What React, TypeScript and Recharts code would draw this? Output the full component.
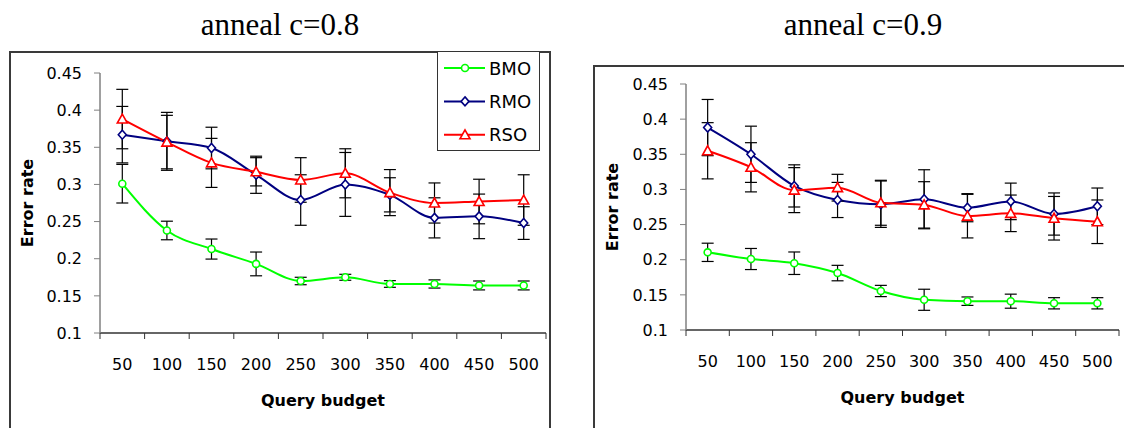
import React from 'react';
import { LineChart, Line, XAxis, YAxis, ErrorBar, Legend } from 'recharts';

const budgets = [50, 100, 150, 200, 250, 300, 350, 400, 450, 500];
const yTicks = [0.1, 0.15, 0.2, 0.25, 0.3, 0.35, 0.4, 0.45];

// anneal c=0.8
const bmo08 = [0.301, 0.238, 0.213, 0.193, 0.17, 0.175, 0.166, 0.166, 0.164, 0.164];
const bmo08Err = [0.026, 0.0125, 0.0135, 0.016, 0.005, 0.004, 0.0045, 0.0055, 0.006, 0.006];
const rmo08 = [0.367, 0.358, 0.349, 0.313, 0.279, 0.3, 0.286, 0.255, 0.257, 0.248];
const rmo08Err = [0.038, 0.039, 0.028, 0.025, 0.034, 0.043, 0.023, 0.027, 0.03, 0.022];
const rso08 = [0.388, 0.357, 0.329, 0.317, 0.306, 0.315, 0.289, 0.275, 0.277, 0.279];
const rso08Err = [0.04, 0.036, 0.033, 0.019, 0.03, 0.033, 0.031, 0.027, 0.03, 0.034];

// anneal c=0.9
const bmo09 = [0.2105, 0.201, 0.195, 0.181, 0.1555, 0.143, 0.141, 0.141, 0.138, 0.138];
const bmo09Err = [0.013, 0.015, 0.016, 0.011, 0.008, 0.015, 0.006, 0.01, 0.008, 0.008];
const rmo09 = [0.388, 0.35, 0.305, 0.285, 0.279, 0.286, 0.274, 0.283, 0.265, 0.276];
const rmo09Err = [0.04, 0.04, 0.03, 0.025, 0.033, 0.042, 0.02, 0.026, 0.03, 0.026];
const rso09 = [0.355, 0.3315, 0.299, 0.3025, 0.281, 0.278, 0.262, 0.266, 0.259, 0.254];
const rso09Err = [0.04, 0.035, 0.032, 0.019, 0.032, 0.033, 0.031, 0.026, 0.031, 0.031];

const seriesNames = ['BMO', 'RMO', 'RSO'];
const seriesColors = ['#00ff00', '#000080', '#ff0000'];

const FONT = '"DejaVu Sans", Arial, sans-serif';

function buildRows(b: number[], be: number[], m: number[], me: number[], s: number[], se: number[]) {
  return budgets.map((q, i) => ({
    q,
    bmo: b[i],
    bmoErr: be[i],
    rmo: m[i],
    rmoErr: me[i],
    rso: s[i],
    rsoErr: se[i],
  }));
}

const data08 = buildRows(bmo08, bmo08Err, rmo08, rmo08Err, rso08, rso08Err);
const data09 = buildRows(bmo09, bmo09Err, rmo09, rmo09Err, rso09, rso09Err);

// marker shapes
const Marker = ({ kind, cx, cy }: { kind: number; cx: number; cy: number }) => {
  const color = seriesColors[kind];
  if (kind === 0) {
    return <circle cx={cx} cy={cy} r={3.5} fill="#fff" stroke={color} strokeWidth={1.6} />;
  }
  if (kind === 1) {
    const d = `M${cx},${cy - 4.5} L${cx + 4},${cy} L${cx},${cy + 4.5} L${cx - 4},${cy} Z`;
    return <path d={d} fill="#fff" stroke={color} strokeWidth={1.6} />;
  }
  const d = `M${cx},${cy - 5} L${cx + 5},${cy + 4} L${cx - 5},${cy + 4} Z`;
  return <path d={d} fill="#fff" stroke={color} strokeWidth={1.6} />;
};

const dotFor = (kind: number) => (p: any) =>
  p.cx == null ? <g key={p.index} /> : <Marker key={p.index} kind={kind} cx={p.cx} cy={p.cy} />;

// x ticks: label at category centre, tick marks between categories
const XTick = (props: any) => {
  const { x, y, payload, index, band } = props;
  const last = index === budgets.length - 1;
  return (
    <g>
      <line x1={x - band / 2} x2={x - band / 2} y1={y} y2={y + 6} stroke="#333" />
      {last && <line x1={x + band / 2} x2={x + band / 2} y1={y} y2={y + 6} stroke="#333" />}
      <text x={x} y={y + 37} textAnchor="middle" fontSize={16} fontFamily={FONT} fill="#000">
        {payload.value}
      </text>
    </g>
  );
};

const LegendBox = () => (
  <div style={{ width: 103, height: 100, border: '1.5px solid #333', background: '#fff', boxSizing: 'border-box' }}>
    <svg width={100} height={97} style={{ display: 'block' }}>
      {seriesNames.map((name, i) => {
        const cy = 16 + i * 33.4;
        return (
          <g key={name}>
            <line x1={6} x2={47} y1={cy} y2={cy} stroke={seriesColors[i]} strokeWidth={2} />
            <Marker kind={i} cx={27} cy={cy} />
            <text x={51} y={cy + 6.5} fontSize={18} fontFamily={FONT} fill="#000">
              {name}
            </text>
          </g>
        );
      })}
    </svg>
  </div>
);

interface PanelProps {
  data: any[];
  left: number;
  width: number;
  margin: { top: number; right: number; bottom: number; left: number };
  yAxisWidth: number;
  band: number;
  yLabelX: number;
  showLegend?: boolean;
}

const Panel: React.FC<PanelProps> = ({ data, left, width, margin, yAxisWidth, band, yLabelX, showLegend }) => (
  <LineChart
    width={width}
    height={428}
    data={data}
    margin={margin}
    style={{ position: 'absolute', left, top: 0 }}
  >
    <XAxis
      dataKey="q"
      type="number"
      domain={[25, 525]}
      ticks={budgets}
      interval={0}
      height={60}
      tickSize={0}
      tickMargin={0}
      tickLine={false}
      axisLine={{ stroke: '#333', strokeWidth: 1.5 }}
      tick={<XTick band={band} />}
      label={(p: any) => {
        const vb = p.viewBox || {};
        return (
          <text
            x={vb.x + vb.width / 2}
            y={vb.y + 73}
            textAnchor="middle"
            fontSize={16}
            fontWeight="bold"
            fontFamily={FONT}
            fill="#000"
          >
            Query budget
          </text>
        );
      }}
    />
    <YAxis
      type="number"
      domain={[0.1, 0.45]}
      ticks={yTicks}
      interval={0}
      width={yAxisWidth}
      tickSize={6}
      tickMargin={12}
      axisLine={{ stroke: '#808080', strokeWidth: 1.5 }}
      tickLine={{ stroke: '#808080' }}
      tick={{ fill: '#000', fontSize: 16, fontFamily: FONT }}
      label={(p: any) => {
        const vb = p.viewBox || {};
        const cy = vb.y + vb.height / 2;
        return (
          <text
            x={yLabelX}
            y={cy}
            transform={`rotate(-90, ${yLabelX}, ${cy})`}
            textAnchor="middle"
            dominantBaseline="central"
            fontSize={16}
            fontWeight="bold"
            fontFamily={FONT}
            fill="#000"
          >
            Error rate
          </text>
        );
      }}
    />
    {showLegend && (
      <Legend
        layout="horizontal"
        verticalAlign="middle"
        align="center"
        content={LegendBox}
        wrapperStyle={{ left: 437, top: 51, width: 103, height: 100 }}
      />
    )}
    <Line type="monotone" dataKey="bmo" name="BMO" stroke={seriesColors[0]} strokeWidth={2} dot={dotFor(0)} activeDot={false} isAnimationActive={false}>
      <ErrorBar dataKey="bmoErr" width={6} stroke="#000" strokeWidth={1.2} direction="y" />
    </Line>
    <Line type="monotone" dataKey="rmo" name="RMO" stroke={seriesColors[1]} strokeWidth={2} dot={dotFor(1)} activeDot={false} isAnimationActive={false}>
      <ErrorBar dataKey="rmoErr" width={6} stroke="#000" strokeWidth={1.2} direction="y" />
    </Line>
    <Line type="monotone" dataKey="rso" name="RSO" stroke={seriesColors[2]} strokeWidth={2} dot={dotFor(2)} activeDot={false} isAnimationActive={false}>
      <ErrorBar dataKey="rsoErr" width={6} stroke="#000" strokeWidth={1.2} direction="y" />
    </Line>
  </LineChart>
);

const titleStyle: React.CSSProperties = {
  position: 'absolute',
  top: 9,
  width: 300,
  textAlign: 'center',
  fontFamily: '"Liberation Serif", "Times New Roman", serif',
  fontSize: 31,
  lineHeight: '31px',
  color: '#000',
  whiteSpace: 'nowrap',
};

export default function App() {
  return (
    <div style={{ position: 'absolute', left: 0, top: 0, width: 1124, height: 428, overflow: 'hidden', background: '#fff' }}>
      <div style={{ ...titleStyle, left: 280 - 150 }}>anneal c=0.8</div>
      <div style={{ ...titleStyle, left: 863 - 150 }}>anneal c=0.9</div>
      <div style={{ position: 'absolute', left: 9, top: 51, width: 542, height: 420, border: '2px solid #3a3a3a', boxSizing: 'border-box' }} />
      <div style={{ position: 'absolute', left: 593, top: 65, width: 600, height: 420, border: '2px solid #3a3a3a', boxSizing: 'border-box' }} />
      <Panel
        data={data08}
        left={0}
        width={560}
        margin={{ top: 73, right: 14, bottom: 35, left: 10 }}
        yAxisWidth={90}
        band={44.6}
        yLabelX={27}
        showLegend
      />
      <Panel
        data={data09}
        left={580}
        width={544}
        margin={{ top: 84, right: 5, bottom: 38, left: 14 }}
        yAxisWidth={92}
        band={43.3}
        yLabelX={32}
      />
    </div>
  );
}
